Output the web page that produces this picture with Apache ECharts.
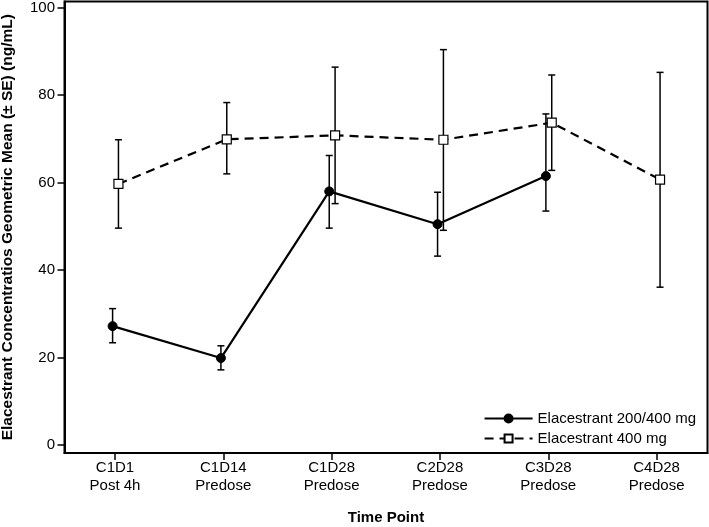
<!DOCTYPE html>
<html>
<head>
<meta charset="utf-8">
<script src="https://cdn.jsdelivr.net/npm/echarts@6/dist/echarts.min.js"></script>
<style>html,body{margin:0;padding:0;background:#fff}#c{width:709px;height:527px}</style>
</head>
<body>
<div id="c"></div>
<script>
// ---- data ----
var categories = ['C1D1\nPost 4h', 'C1D14\nPredose', 'C1D28\nPredose', 'C2D28\nPredose', 'C3D28\nPredose', 'C4D28\nPredose'];
var yTicks = [0, 20, 40, 60, 80, 100];
var seriesNames = ['Elacestrant 200/400 mg', 'Elacestrant 400 mg'];
// Elacestrant 200/400 mg (geometric mean, lower, upper)
var mean200 = [27.2, 19.9, 58.0, 50.5, 61.5];
var low200  = [23.4, 17.2, 49.6, 43.2, 53.5];
var high200 = [31.2, 22.7, 66.2, 57.8, 75.7];
// Elacestrant 400 mg
var mean400 = [59.7, 69.9, 70.8, 69.8, 73.7, 60.7];
var low400  = [49.6, 62.0, 55.2, 49.1, 62.8, 36.1];
var high400 = [69.8, 78.3, 86.4, 90.4, 84.6, 85.2];

// style: small horizontal dodge between the two series (fraction of category spacing)
var dodge200 = -0.022, dodge400 = 0.032;

function pts(mean, dodge) { return mean.map(function (v, i) { return [i + dodge, v]; }); }
function errs(low, high, dodge) { return low.map(function (v, i) { return [i + dodge, v, high[i]]; }); }

function errRender(params, api) {
  var x = api.value(0);
  var lo = api.coord([x, api.value(1)]);
  var hi = api.coord([x, api.value(2)]);
  var w = 3.5;
  var st = { stroke: '#000', lineWidth: 1.5 };
  return {
    type: 'group',
    children: [
      { type: 'line', shape: { x1: lo[0], y1: lo[1], x2: hi[0], y2: hi[1] }, style: st },
      { type: 'line', shape: { x1: lo[0] - w, y1: lo[1], x2: lo[0] + w, y2: lo[1] }, style: st },
      { type: 'line', shape: { x1: hi[0] - w, y1: hi[1], x2: hi[0] + w, y2: hi[1] }, style: st }
    ]
  };
}

var font = 'Liberation Sans, Arial, sans-serif';
var chart = echarts.init(document.getElementById('c'), null, { renderer: 'canvas' });
var tickIdx = categories.map(function (c, i) { return i; });

chart.setOption({
  animation: false,
  backgroundColor: '#fff',
  textStyle: { fontFamily: font },
  grid: { left: 64.5, right: 1.5, top: 1.5, bottom: 74, show: true, borderColor: '#000', borderWidth: 2,
          containLabel: false, outerBoundsMode: 'none' },
  legend: {
    orient: 'vertical', right: 8, bottom: 76,
    itemWidth: 48, itemHeight: 10, itemGap: 5,
    textStyle: { fontSize: 15, color: '#000', fontFamily: font, lineHeight: 14 },
    data: seriesNames
  },
  xAxis: {
    type: 'value', min: -0.466, max: 5.47,
    name: 'Time Point', nameLocation: 'middle', nameGap: 57,
    nameTextStyle: { fontSize: 15, fontWeight: 'bold', color: '#000' },
    splitLine: { show: false },
    axisLine: { show: true, onZero: false, lineStyle: { color: '#000', width: 2 } },
    axisTick: { show: true, length: 7, lineStyle: { color: '#000', width: 1.5 }, customValues: tickIdx },
    axisLabel: {
      customValues: tickIdx, margin: 6, fontSize: 15, color: '#000', lineHeight: 18,
      formatter: function (v) { return categories[Math.round(v)]; }
    }
  },
  yAxis: {
    type: 'value', min: -1.8, max: 101.4,
    name: 'Elacestrant Concentratios Geometric Mean (± SE) (ng/mL)', nameLocation: 'middle', nameGap: 49,
    nameTextStyle: { fontSize: 15.5, fontWeight: 'bold', color: '#000' },
    splitLine: { show: false },
    axisLine: { show: true, onZero: false, lineStyle: { color: '#000', width: 2 } },
    axisTick: { show: true, length: 7, lineStyle: { color: '#000', width: 1.5 }, customValues: yTicks },
    axisLabel: { customValues: yTicks, margin: 9.5, fontSize: 15, color: '#000' }
  },
  series: [
    {
      type: 'custom', name: 'err200', renderItem: errRender, data: errs(low200, high200, dodge200), z: 3, silent: true
    },
    {
      type: 'custom', name: 'err400', renderItem: errRender, data: errs(low400, high400, dodge400), z: 3, silent: true
    },
    {
      type: 'line', name: seriesNames[0], data: pts(mean200, dodge200), z: 5,
      symbol: 'circle', symbolSize: 9, showAllSymbol: true,
      lineStyle: { color: '#000', width: 2.2 },
      itemStyle: { color: '#000', borderColor: '#000', borderWidth: 1 }
    },
    {
      type: 'line', name: seriesNames[1], data: pts(mean400, dodge400), z: 5,
      symbol: 'rect', symbolSize: 9, showAllSymbol: true,
      lineStyle: { color: '#000', width: 2.2, type: [9, 6] },
      itemStyle: { color: '#fff', borderColor: '#000', borderWidth: 1.2 }
    }
  ]
});
</script>
</body>
</html>
